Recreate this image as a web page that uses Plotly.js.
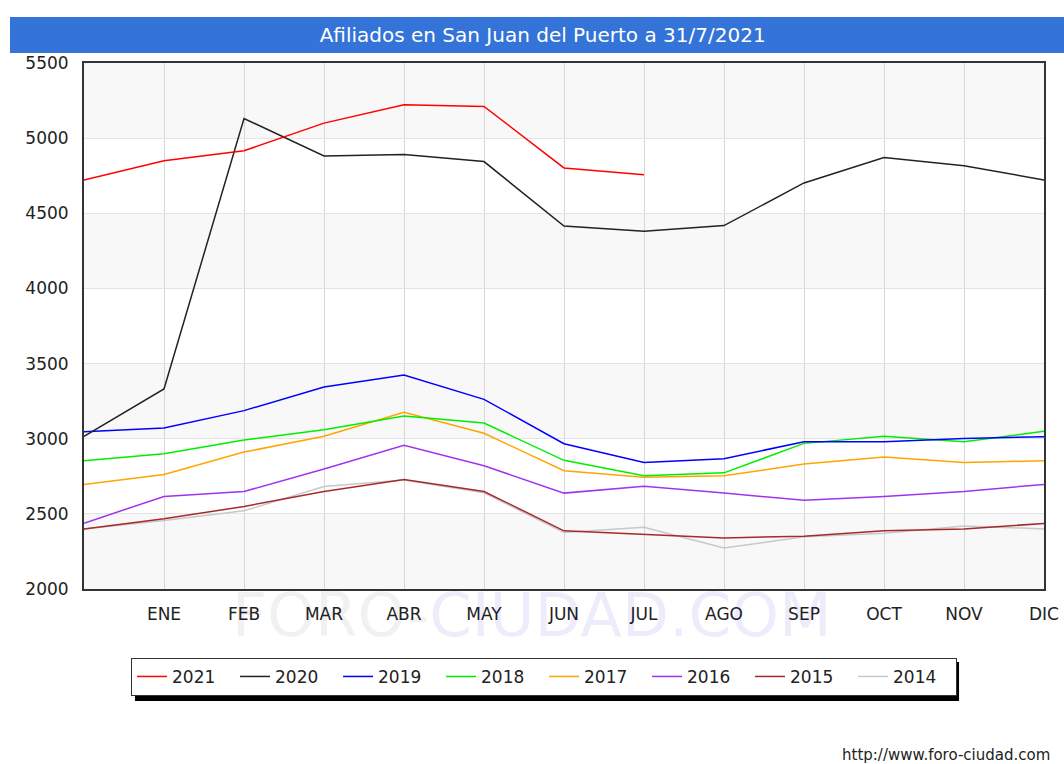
<!DOCTYPE html>
<html>
<head>
<meta charset="utf-8">
<script src="https://cdn.plot.ly/plotly-3.0.1.min.js"></script>
<style>
  body { margin: 0; background: #fff; }
  #chart { width: 1064px; height: 764px; }
</style>
</head>
<body>
<div id="chart"></div>
<script>
// month positions: 0 = start of year, 1..12 = ENE..DIC
var monthPos = [0, 1, 2, 3, 4, 5, 6, 7, 8, 9, 10, 11, 12];
var tickPos = [1, 2, 3, 4, 5, 6, 7, 8, 9, 10, 11, 12];
var tickLabels = ["ENE", "FEB", "MAR", "ABR", "MAY", "JUN", "JUL", "AGO", "SEP", "OCT", "NOV", "DIC"];

var y2021 = [4722, 4849, 4916, 5100, 5222, 5211, 4802, 4756];
var y2020 = [3015, 3331, 5131, 4882, 4891, 4844, 4415, 4380, 4418, 4702, 4871, 4816, 4722];
var y2019 = [3047, 3071, 3187, 3344, 3424, 3262, 2967, 2842, 2867, 2980, 2980, 3002, 3013];
var y2018 = [2853, 2900, 2991, 3060, 3151, 3104, 2856, 2753, 2773, 2969, 3016, 2980, 3049];
var y2017 = [2696, 2762, 2911, 3016, 3176, 3036, 2787, 2744, 2753, 2831, 2878, 2842, 2853];
var y2016 = [2438, 2616, 2649, 2798, 2956, 2820, 2638, 2684, 2638, 2591, 2616, 2649, 2696];
var y2015 = [2400, 2467, 2549, 2649, 2729, 2649, 2387, 2364, 2340, 2351, 2387, 2400, 2436];
var y2014 = [2400, 2455, 2520, 2682, 2725, 2640, 2376, 2411, 2273, 2347, 2371, 2420, 2400];

var years = ["2014", "2015", "2016", "2017", "2018", "2019", "2020", "2021"];
var seriesValues = [y2014, y2015, y2016, y2017, y2018, y2019, y2020, y2021];
var colors = ["#c8c8c8", "#a52a2a", "#a033f0", "#ffa500", "#00ee00", "#0000ff", "#222222", "#ff0000"];

var traces = years.map(function (yr, i) {
  return {
    x: monthPos.slice(0, seriesValues[i].length),
    y: seriesValues[i],
    name: yr,
    type: "scatter",
    mode: "lines",
    line: {color: colors[i], width: 1.5},
    hoverinfo: "x+y+name"
  };
});

// alternating grey bands behind the plot
var bandEdges = [2000, 2500, 3000, 3500, 4000, 4500, 5000, 5500];
var shapes = [];
for (var b = 0; b < bandEdges.length - 1; b += 2) {
  shapes.push({
    type: "rect", xref: "paper", yref: "y", layer: "below",
    x0: 0, x1: 1, y0: bandEdges[b], y1: bandEdges[b + 1],
    fillcolor: "#f8f8f8", line: {width: 0}
  });
}
// blue title bar
shapes.push({
  type: "rect", xref: "paper", yref: "paper", layer: "below",
  x0: -0.0771, x1: 1.03, y0: 1.019, y1: 1.0875,
  fillcolor: "#3473d8", line: {width: 0}
});
// legend shadow
shapes.push({
  type: "rect", xref: "paper", yref: "paper", layer: "below",
  x0: 0.0531, x1: 0.9115, y0: -0.2129, y1: -0.1388,
  fillcolor: "#000000", line: {width: 0}
});

var layout = {
  width: 1064,
  height: 764,
  margin: {l: 84, r: 20, t: 63, b: 175},
  paper_bgcolor: "#ffffff",
  plot_bgcolor: "#ffffff",
  font: {family: "DejaVu Sans, sans-serif", size: 17, color: "#222222"},
  title: {
    text: "Afiliados en San Juan del Puerto a 31/7/2021",
    font: {family: "DejaVu Sans, sans-serif", size: 20, color: "#ffffff"},
    x: 0.51, xanchor: "center",
    y: 1 - 35 / 764, yanchor: "middle", yref: "container"
  },
  xaxis: {
    range: [0, 12],
    tickmode: "array",
    tickvals: tickPos,
    ticktext: tickLabels,
    showgrid: true,
    gridcolor: "#d6d6d6",
    gridwidth: 1,
    zeroline: false,
    showline: true,
    linecolor: "#333333",
    linewidth: 2,
    mirror: true,
    ticks: "",
    ticklabelstandoff: 9,
    fixedrange: true
  },
  yaxis: {
    range: [2000, 5500],
    tickvals: [2000, 2500, 3000, 3500, 4000, 4500, 5000, 5500],
    showgrid: true,
    gridcolor: "#e4e4e4",
    gridwidth: 1,
    zeroline: false,
    showline: true,
    linecolor: "#333333",
    linewidth: 2,
    mirror: true,
    ticks: "",
    ticklabelstandoff: 10,
    fixedrange: true
  },
  showlegend: true,
  legend: {
    orientation: "h",
    traceorder: "reversed",
    x: 0.049, xanchor: "left",
    y: -0.131, yanchor: "top",
    bgcolor: "#ffffff",
    bordercolor: "#333333",
    borderwidth: 1,
    entrywidth: 58,
    entrywidthmode: "pixels",
    font: {size: 17, color: "#222222"}
  },
  shapes: shapes,
  annotations: [
    {
      // faint watermark, translucent so the month labels stay readable
      text: "<span style='color:rgba(0,0,0,0.055)'>FORO-</span><span style='color:rgba(0,0,200,0.075)'>CIUDAD.COM</span>",
      xref: "paper", yref: "paper",
      x: 0.467, y: -0.049, xanchor: "center", yanchor: "middle",
      showarrow: false,
      font: {family: "DejaVu Sans, sans-serif", size: 61}
    },
    {
      text: "http://www.foro-ciudad.com",
      xref: "paper", yref: "paper",
      x: 1.008, y: -0.316, xanchor: "right", yanchor: "middle",
      showarrow: false,
      font: {family: "DejaVu Sans, sans-serif", size: 15, color: "#222222"}
    }
  ]
};

Plotly.newPlot("chart", traces, layout, {displayModeBar: false, staticPlot: true});
</script>
</body>
</html>
